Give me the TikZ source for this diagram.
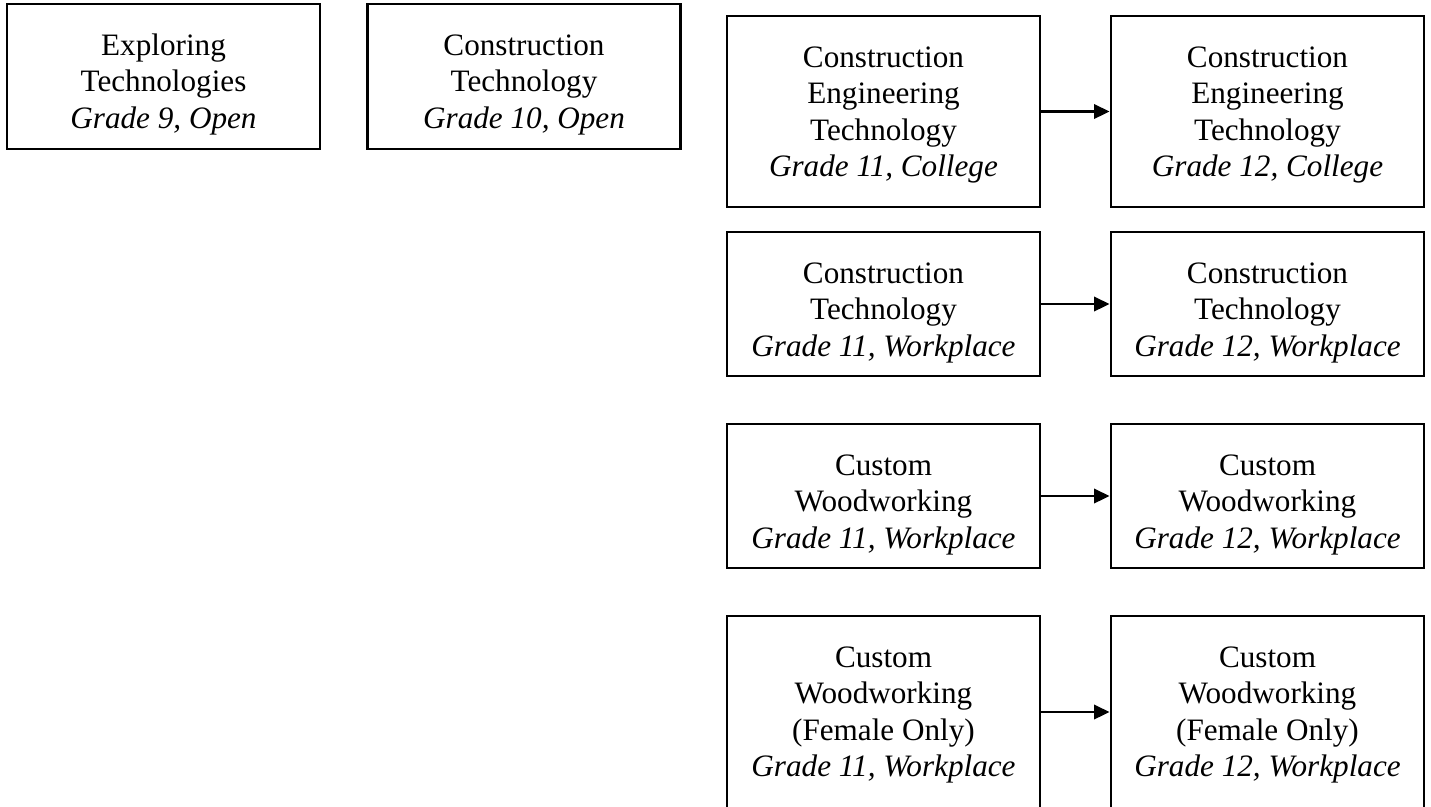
\documentclass[tikz,border=0pt]{standalone}
\usepackage{fontspec}
\setmainfont{Liberation Serif}
\usetikzlibrary{arrows.meta}

\newcommand{\firstline}{\rule{0pt}{10pt}}

\tikzset{
  course/.style={draw, line width=1.1pt, inner sep=0pt, minimum width=120.5pt},
  coursetext/.style={anchor=north, inner sep=0pt, yshift=-10pt, align=center,
    font=\fontsize{12}{14.1}\selectfont},
  nextyear/.style={line width=1.1pt, -{Triangle[length=6pt,width=5.5pt]}}
}

\begin{document}
\begin{tikzpicture}[x=0.385pt,y=0.385pt,yscale=-1,xscale=1]
        \useasboundingbox (0,0) rectangle (1431,806);

        % Grade 9 and 10
        \node [course, minimum height=55.8pt] (ext9) at (163.5,76.5) {};
        \node [course, minimum height=55.8pt] (con10) at (524,76.5) {};
        % Grade 11 column
        \node [course, minimum height=73.5pt] (eng11) at (883.5,111.5) {};
        \node [course, minimum height=55.4pt] (con11) at (883.5,304) {};
        \node [course, minimum height=55.4pt] (wood11) at (883.5,496) {};
        \node [course, minimum height=73.9pt] (fem11) at (883.5,712) {};
        % Grade 12 column
        \node [course, minimum height=73.5pt] (eng12) at (1267.5,111.5) {};
        \node [course, minimum height=55.4pt] (con12) at (1267.5,304) {};
        \node [course, minimum height=55.4pt] (wood12) at (1267.5,496) {};
        \node [course, minimum height=73.9pt] (fem12) at (1267.5,712) {};

        % Text Nodes
        \node [coursetext] (ext9txt) at (ext9.north) {\firstline Exploring\\Technologies\\\textit{Grade 9, Open}};
        \node [coursetext] (con10txt) at (con10.north) {\firstline Construction\\Technology\\\textit{Grade 10, Open}};
        \node [coursetext] (eng11txt) at (eng11.north) {\firstline Construction\\Engineering\\Technology\\\textit{Grade 11, College}};
        \node [coursetext] (con11txt) at (con11.north) {\firstline Construction\\Technology\\\textit{Grade 11, Workplace}};
        \node [coursetext] (wood11txt) at (wood11.north) {\firstline Custom\\Woodworking\\\textit{Grade 11, Workplace}};
        \node [coursetext] (fem11txt) at (fem11.north) {\firstline Custom\\Woodworking\\(Female Only)\\\textit{Grade 11, Workplace}};
        \node [coursetext] (eng12txt) at (eng12.north) {\firstline Construction\\Engineering\\Technology\\\textit{Grade 12, College}};
        \node [coursetext] (con12txt) at (con12.north) {\firstline Construction\\Technology\\\textit{Grade 12, Workplace}};
        \node [coursetext] (wood12txt) at (wood12.north) {\firstline Custom\\Woodworking\\\textit{Grade 12, Workplace}};
        \node [coursetext] (fem12txt) at (fem12.north) {\firstline Custom\\Woodworking\\(Female Only)\\\textit{Grade 12, Workplace}};

        % Arrows
        \draw [nextyear] (eng11) -- (eng12);
        \draw [nextyear] (con11) -- (con12);
        \draw [nextyear] (wood11) -- (wood12);
        \draw [nextyear] (fem11) -- (fem12);
    \end{tikzpicture}
\end{document}
